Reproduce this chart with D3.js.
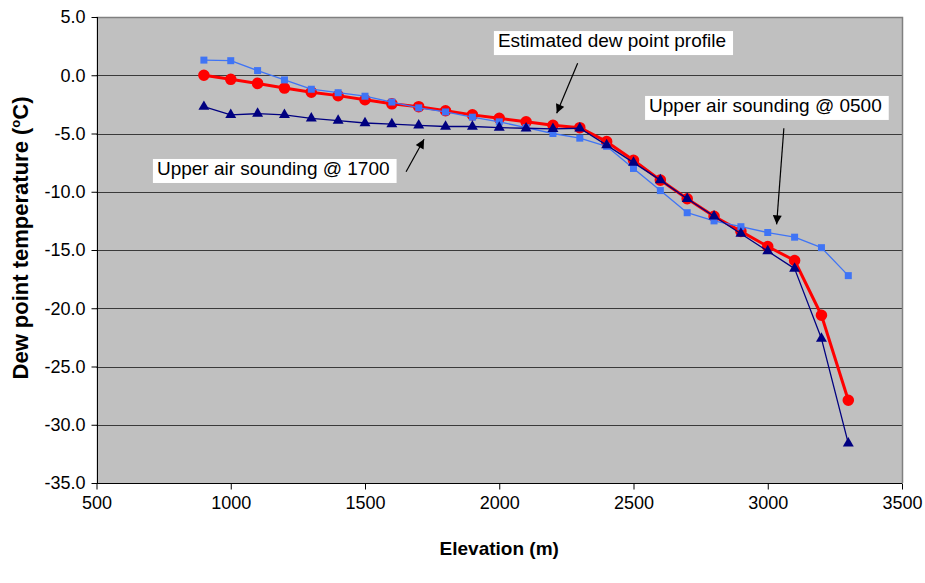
<!DOCTYPE html>
<html>
<head>
<meta charset="utf-8">
<script src="https://cdn.jsdelivr.net/npm/d3@7/dist/d3.min.js"></script>
<style>
  html, body { margin: 0; padding: 0; background: #fff; }
  svg { display: block; font-family: "Liberation Sans", Arial, sans-serif; }
</style>
</head>
<body>
<svg id="chart" width="925" height="583"></svg>
<script>
const elevations = [900,1000,1100,1200,1300,1400,1500,1600,1700,1800,1900,2000,2100,2200,2300,2400,2500,2600,2700,2800,2900,3000,3100,3200,3300];
const estimated = [0.0,-0.35,-0.7,-1.1,-1.45,-1.75,-2.1,-2.45,-2.7,-3.05,-3.4,-3.7,-4.0,-4.3,-4.5,-5.7,-7.3,-9.0,-10.6,-12.1,-13.4,-14.7,-15.9,-20.6,-27.9];
const sounding0500 = [1.3,1.25,0.4,-0.4,-1.2,-1.5,-1.8,-2.3,-2.8,-3.15,-3.6,-4.0,-4.5,-5.0,-5.4,-6.1,-8.0,-9.9,-11.8,-12.5,-13.0,-13.5,-13.9,-14.8,-17.2];
const sounding1700 = [-2.7,-3.4,-3.3,-3.4,-3.7,-3.9,-4.1,-4.2,-4.3,-4.4,-4.4,-4.5,-4.55,-4.6,-4.55,-6.0,-7.5,-9.0,-10.6,-12.1,-13.6,-15.1,-16.6,-22.6,-31.6];
const xTicks = [500,1000,1500,2000,2500,3000,3500];
const yTicks = [5,0,-5,-10,-15,-20,-25,-30,-35];
const annotationTexts = ["Estimated dew point profile", "Upper air sounding @ 0500", "Upper air sounding @ 1700"];
// anchor of each text (elevation, temperature) and arrow from/to in data units
const annotationAnchors = [[1995, 2.42], [2558, -3.15], [725, -8.56]];
const arrowFrom = [[2292, 1.03], [3060, -4.55], [1653, -8.28]];
const arrowTo = [[2214, -3.27], [3033, -12.8], [1720, -5.5]];

const margin = {left: 96.5, top: 17, right: 925 - 902, bottom: 583 - 483};
const svg = d3.select("#chart");
const x = d3.scaleLinear().domain([500, 3500]).range([margin.left, 902]);
const y = d3.scaleLinear().domain([-35, 5]).range([483, margin.top]);

// plot background
svg.append("rect").attr("x", x(500)).attr("y", y(5))
  .attr("width", x(3500) - x(500)).attr("height", y(-35) - y(5))
  .attr("fill", "#C0C0C0");

// gridlines
svg.append("g").selectAll("line").data(yTicks.filter(d => d > -35 && d < 5)).join("line")
  .attr("x1", x(500)).attr("x2", x(3500))
  .attr("y1", d => Math.round(y(d)) + 0.5).attr("y2", d => Math.round(y(d)) + 0.5)
  .attr("stroke", "#3a3a3a").attr("stroke-width", 1);

// plot border top/right
svg.append("path")
  .attr("d", `M${x(500)},${Math.round(y(5))+0.5}H${Math.round(x(3500))+0.5}V${y(-35)}`)
  .attr("fill", "none").attr("stroke", "#808080").attr("stroke-width", 1.5);

// axes
const xAxis = d3.axisBottom(x).tickValues(xTicks).tickSize(6).tickPadding(7).tickFormat(d3.format("d"));
const gx = svg.append("g").attr("transform", `translate(0,${Math.round(y(-35))+0.5})`).call(xAxis);
gx.select(".domain").attr("stroke", "#000").attr("d", `M${x(500)},0H${x(3500)}`);
gx.selectAll(".tick line").attr("stroke", "#000");
gx.selectAll("text").attr("font-size", 18).attr("fill", "#000")
  .attr("font-family", "Liberation Sans, Arial, sans-serif");

const yAxis = d3.axisLeft(y).tickValues(yTicks).tickSize(6).tickPadding(6).tickFormat(d3.format(".1f"));
const gy = svg.append("g").attr("transform", `translate(${Math.round(x(500))+0.5},0)`).call(yAxis);
gy.select(".domain").attr("stroke", "#000").attr("d", `M0,${y(5)}V${y(-35)}`);
gy.selectAll(".tick line").attr("stroke", "#000");
gy.selectAll("text").attr("font-size", 18).attr("fill", "#000")
  .attr("font-family", "Liberation Sans, Arial, sans-serif")
  .text(d => d3.format(".1f")(d).replace("−", "-"));

// axis titles
svg.append("text").attr("x", (x(500) + x(3500)) / 2).attr("y", 555)
  .attr("text-anchor", "middle").attr("font-weight", "bold").attr("font-size", 19)
  .text("Elevation (m)");
const yt = svg.append("text").attr("transform", `translate(28,${(y(5) + y(-35)) / 2 - 12}) rotate(-90)`)
  .attr("text-anchor", "middle").attr("font-weight", "bold").attr("font-size", 22);
yt.append("tspan").text("Dew point temperature (");
yt.append("tspan").text("o").attr("font-size", 13).attr("dy", -8);
yt.append("tspan").text("C)").attr("dy", 8);

// series
const line = d3.line().x(d => x(d[0])).y(d => y(d[1]));
const series = [
  {vals: estimated, color: "#FF0000", width: 3, shape: "circle"},
  {vals: sounding0500, color: "#3F74F5", width: 1.3, shape: "square"},
  {vals: sounding1700, color: "#000080", width: 1.3, shape: "triangle"}
];
series.forEach(s => {
  const pts = elevations.map((e, i) => [e, s.vals[i]]);
  svg.append("path").datum(pts).attr("d", line).attr("fill", "none")
    .attr("stroke", s.color).attr("stroke-width", s.width).attr("stroke-linejoin", "round");
  let sym;
  if (s.shape === "circle") sym = d3.symbol().type(d3.symbolCircle).size(105);
  else if (s.shape === "square") sym = d3.symbol().type(d3.symbolSquare).size(49);
  else sym = d3.symbol().type(d3.symbolTriangle).size(52);
  svg.append("g").selectAll("path").data(pts).join("path")
    .attr("d", sym)
    .attr("transform", d => `translate(${x(d[0])},${y(d[1])})`)
    .attr("fill", s.color);
});

// annotations
const defs = svg.append("defs");
defs.append("marker").attr("id", "ah").attr("viewBox", "0 0 10 10")
  .attr("refX", 10).attr("refY", 5).attr("markerWidth", 11).attr("markerHeight", 9)
  .attr("markerUnits", "userSpaceOnUse").attr("orient", "auto")
  .append("path").attr("d", "M0,0L10,5L0,10z").attr("fill", "#000");

annotationTexts.forEach((t, i) => {
  const a = arrowFrom[i], b = arrowTo[i];
  svg.append("line").attr("x1", x(a[0])).attr("y1", y(a[1]))
    .attr("x2", x(b[0])).attr("y2", y(b[1]))
    .attr("stroke", "#000").attr("stroke-width", 1.2).attr("marker-end", "url(#ah)");
  const g = svg.append("g");
  const rect = g.append("rect").attr("fill", "#fff");
  const tx = g.append("text").attr("x", x(annotationAnchors[i][0])).attr("y", y(annotationAnchors[i][1]))
    .attr("font-size", 19).attr("fill", "#000").text(t);
  const bb = tx.node().getBBox();
  rect.attr("x", bb.x - 4).attr("y", bb.y + 1).attr("width", bb.width + 11).attr("height", bb.height + 3);
});
</script>
</body>
</html>
